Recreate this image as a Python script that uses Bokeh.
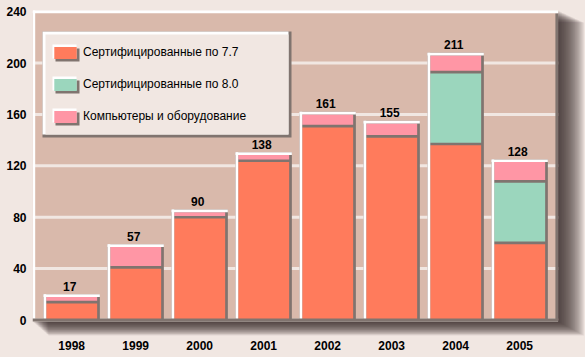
import numpy as np
from bokeh.plotting import figure
from bokeh.models import (ColumnDataSource, Range1d, FixedTicker, Legend, LegendItem,
                          GlobalInlineStyleSheet)
from bokeh.core.properties import value
from bokeh.embed import file_html
from bokeh.resources import INLINE

# ---------------- data ----------------
years = ["1998", "1999", "2000", "2001", "2002", "2003", "2004", "2005"]
cert_77 = [15, 42, 81, 125, 152, 144, 138, 61]
cert_80 = [0, 0, 0, 0, 0, 0, 56, 48]
hardware = [5, 17, 5, 5.5, 10, 11, 14, 16]
totals = [17, 57, 90, 138, 161, 155, 211, 128]
y_ticks = [0, 40, 80, 120, 160, 200, 240]
series_labels = ["Сертифицированные по 7.7", "Сертифицированные по 8.0",
                 "Компьютеры и оборудование"]

# ---------------- style ----------------
BG = "#f1e7e2"
PLOT_BG = "#d9b9ab"
GRID = "#f1e7e2"
DARK = "#80746f"
WHITE = "#ffffff"
COLORS = ["#ff7b5c", "#9bd6bd", "#ff96a5"]
DIGIT_FONT = "Liberation Sans"
LEGEND_FONT = "Liberation Sans"

W, H = 585, 357
LEFT, TOP, BOTTOM = 32, 0, 18
PX_X = 1 / 64.0
PX_Y = 1 / 1.285
X_START = -0.6125
X_END = X_START + (W - LEFT) * PX_X
Y_END = 319.5 * PX_Y
Y_START = Y_END - (H - TOP - BOTTOM) * PX_Y
PLOT_RIGHT = 7.6
PLOT_TOP = 240.85
BAR_W = 0.88
BX = 2.7 * PX_X
BY = 2.7 * PX_Y

p = figure(width=W, height=H, x_range=Range1d(X_START, X_END),
           y_range=Range1d(Y_START, Y_END), output_backend="svg",
           toolbar_location=None, min_border=0, min_border_left=LEFT,
           min_border_right=0, min_border_top=TOP, min_border_bottom=BOTTOM)
p.background_fill_color = BG
p.border_fill_color = BG
p.outline_line_color = None
p.grid.visible = False
p.stylesheets = [GlobalInlineStyleSheet(css="html, body { background-color: #f1e7e2; }")]

# soft shadow of the plot panel (stacked translucent rectangles)
K = 20
fs = [(K - k) / K for k in range(K)]
p.quad(left=[X_START + 16 * PX_X * f for f in fs],
       right=[PLOT_RIGHT + 26 * PX_X * f for f in fs],
       bottom=[-(1.5 + 14 * f) * PX_Y for f in fs],
       top=[PLOT_TOP - 12 * PX_Y * f for f in fs],
       fill_color="#2e2826", fill_alpha=0.08, line_color=None)

# plot panel
p.quad(left=[X_START], right=[PLOT_RIGHT], bottom=[0], top=[PLOT_TOP],
       fill_color=PLOT_BG, line_color=None)
p.segment(x0=[X_START] * len(y_ticks), x1=[PLOT_RIGHT] * len(y_ticks),
          y0=y_ticks, y1=y_ticks, line_color=GRID, line_width=3)
p.quad(left=[X_START], right=[X_START + BX], bottom=[0], top=[PLOT_TOP],
       fill_color=WHITE, line_color=None)
p.quad(left=[PLOT_RIGHT - BX], right=[PLOT_RIGHT], bottom=[0], top=[PLOT_TOP - BY],
       fill_color=DARK, line_color=None)
p.quad(left=[X_START], right=[PLOT_RIGHT], bottom=[PLOT_TOP - BY], top=[PLOT_TOP],
       fill_color=WHITE, line_color=None)

# ---------------- bars ----------------
idx = np.arange(len(years), dtype=float)
series = [np.array(cert_77, float), np.array(cert_80, float), np.array(hardware, float)]
bar_top = np.sum(series, axis=0)

base = ColumnDataSource(dict(x=idx, top=bar_top, top_in=bar_top - BY,
                             xl=idx - BAR_W / 2 + BX / 2))
p.vbar(x="x", width=BAR_W, bottom=0, top="top", source=base,
       fill_color=DARK, line_color=None)

seg_renderers = []
bottom = np.zeros(len(years))
for s, col in zip(series, COLORS):
    t = bottom + s
    t_draw = np.maximum(bottom, t - BY)
    src = ColumnDataSource(dict(x=idx, bottom=bottom.copy(), top=t_draw))
    r = p.vbar(x="x", width=BAR_W - 2 * BX, bottom="bottom", top="top", source=src,
               fill_color=col, line_color=None)
    seg_renderers.append(r)
    bottom = t

p.vbar(x="xl", width=BX, bottom=0, top="top", source=base, fill_color=WHITE, line_color=None)
p.vbar(x="x", width=BAR_W, bottom="top_in", top="top", source=base,
       fill_color=WHITE, line_color=None)

# baseline
p.quad(left=[X_START], right=[PLOT_RIGHT], bottom=[-1.5 * PX_Y], top=[1.5 * PX_Y],
       fill_color=DARK, line_color=None)

# total labels
lab = ColumnDataSource(dict(x=idx, y=bar_top, text=[str(v) for v in totals]))
p.text(x="x", y="y", text="text", source=lab, x_offset=-2, y_offset=-8,
       text_align="center", text_baseline="alphabetic",
       text_font=value(DIGIT_FONT), text_font_style="bold", text_font_size="12px",
       text_color="#000000")

# ---------------- legend box ----------------
def dx(px):
    return X_START + (px - LEFT) * PX_X

def dy(px):
    return Y_END - (px - TOP) * PX_Y

p.quad(left=[dx(42)], right=[dx(291)], bottom=[dy(137)], top=[dy(31)],
       fill_color=DARK, line_color=None)
p.quad(left=[dx(42)], right=[dx(288)], bottom=[dy(134)], top=[dy(31)],
       fill_color=WHITE, line_color=None)
p.quad(left=[dx(45)], right=[dx(288)], bottom=[dy(134)], top=[dy(34)],
       fill_color=BG, line_color=None)

# bevel behind the legend swatches
row_c = [52 + 32 * k for k in range(len(series_labels))]
p.quad(left=[dx(55)] * 3, right=[dx(79)] * 3,
       bottom=[dy(c + 9) for c in row_c], top=[dy(c - 4) for c in row_c],
       fill_color=DARK, line_color=None)
p.quad(left=[dx(52)] * 3, right=[dx(76)] * 3,
       bottom=[dy(c + 6) for c in row_c], top=[dy(c - 8) for c in row_c],
       fill_color=WHITE, line_color=None)

legend = Legend(items=[LegendItem(label=lbl, renderers=[r])
                       for lbl, r in zip(series_labels, seg_renderers)],
                location=(19, (H - BOTTOM) - 126), orientation="vertical",
                background_fill_alpha=0.0, border_line_color=None,
                padding=0, margin=0, spacing=12,
                glyph_width=28, glyph_height=15, label_height=20, label_width=195,
                label_standoff=4, label_text_font=LEGEND_FONT,
                label_text_font_size="12px", label_text_color="#000000")
p.add_layout(legend)

# ---------------- axes ----------------
p.xaxis.ticker = FixedTicker(ticks=list(idx))
p.xaxis.major_label_overrides = {float(i): y for i, y in zip(idx, years)}
p.yaxis.ticker = FixedTicker(ticks=y_ticks)
for ax in (p.xaxis, p.yaxis):
    ax.axis_line_color = None
    ax.major_tick_line_color = None
    ax.minor_tick_line_color = None
    ax.major_tick_out = 0
    ax.major_tick_in = 0
    ax.minor_tick_out = 0
    ax.minor_tick_in = 0
    ax.major_label_text_font = DIGIT_FONT
    ax.major_label_text_font_style = "bold"
    ax.major_label_text_font_size = "12px"
    ax.major_label_text_color = "#000000"
p.xaxis.major_label_standoff = 1
p.yaxis.major_label_standoff = 6

open("out.html", "w").write(file_html(p, INLINE))
